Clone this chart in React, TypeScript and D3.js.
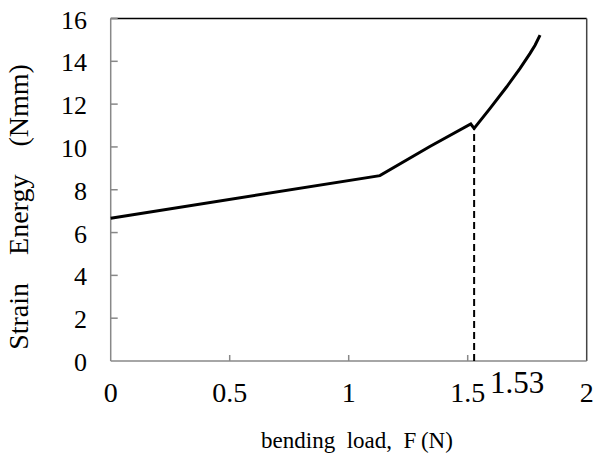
import React from "react";
import * as d3 from "d3";

const loadF = [0, 1.131, 1.341, 1.513, 1.527, 1.594, 1.664, 1.72, 1.762, 1.783, 1.804];
const energy = [6.67, 8.66, 10.02, 11.07, 10.87, 11.8, 12.81, 13.67, 14.37, 14.75, 15.22];
const xTicks = [0, 0.5, 1, 1.5, 2];
const xTickLabels = ["0", "0.5", "1", "1.5", "2"];
const yTicks = [0, 2, 4, 6, 8, 10, 12, 14, 16];
const markerF = 1.527;
const markerE = 10.87;
const markerLabel = "1.53";

const W = 595;
const H = 457;

export default function App() {
  const x = d3.scaleLinear().domain([0, 2]).range([110.7, 586.7]);
  const y = d3.scaleLinear().domain([0, 16]).range([361, 18.5]);
  const pts: [number, number][] = loadF.map((f, i) => [f, energy[i]]);
  const line = d3
    .line<[number, number]>()
    .x((d) => x(d[0]))
    .y((d) => y(d[1]));
  const font = "'Liberation Serif', 'Times New Roman', serif";
  const x0 = x(0), x1 = x(2), y0 = y(0), y1 = y(16);
  return (
    <svg
      width={W}
      height={H}
      style={{ position: "absolute", left: 0, top: 0, display: "block", background: "#fff" }}
      fontFamily={font}
    >
      {/* frame */}
      <line x1={x0} y1={y1} x2={x1} y2={y1} stroke="#000" strokeWidth={1.5} />
      <line x1={x1} y1={y1} x2={x1} y2={y0} stroke="#444" strokeWidth={1.5} />
      <line x1={x0} y1={y0} x2={x1} y2={y0} stroke="#888" strokeWidth={1.5} />
      <line x1={x0} y1={y1} x2={x0} y2={y0} stroke="#888" strokeWidth={1.5} />
      {/* y ticks */}
      {yTicks.map((t) => (
        <g key={"y" + t}>
          {t > 0 && <line x1={x0} x2={x0 + 7} y1={y(t)} y2={y(t)} stroke="#888" strokeWidth={1.5} />}
          <text x={87} y={y(t) + 10} textAnchor="end" fontSize={26} fill="#000">
            {t}
          </text>
        </g>
      ))}
      {/* x ticks */}
      {xTicks.map((t, i) => (
        <g key={"x" + t}>
          {t > 0 && t < 2 && <line x1={x(t)} x2={x(t)} y1={y0} y2={y0 - 6} stroke="#888" strokeWidth={1.5} />}
          <text x={x(t)} y={402} textAnchor="middle" fontSize={28} fill="#000">
            {xTickLabels[i]}
          </text>
        </g>
      ))}
      {/* dashed marker */}
      <line
        x1={x(markerF)}
        x2={x(markerF)}
        y1={y0}
        y2={y(markerE)}
        stroke="#000"
        strokeWidth={2}
        strokeDasharray="7,4"
      />
      <text x={490} y={393} fontSize={31} fill="#000">
        {markerLabel}
      </text>
      {/* data */}
      <path d={line(pts) || ""} fill="none" stroke="#000" strokeWidth={3} strokeLinejoin="miter" />
      {/* axis titles */}
      <text x={357} y={448} textAnchor="middle" fontSize={23} fill="#000" style={{ whiteSpace: "pre" }}>
        {"bending  load,  F\u2009(N)"}
      </text>
      <text
        transform={`translate(28, 207) rotate(-90)`}
        textAnchor="middle"
        fontSize={28}
        fill="#000"
        style={{ whiteSpace: "pre" }}
      >
        {"Strain    Energy    (Nmm)"}
      </text>
    </svg>
  );
}
